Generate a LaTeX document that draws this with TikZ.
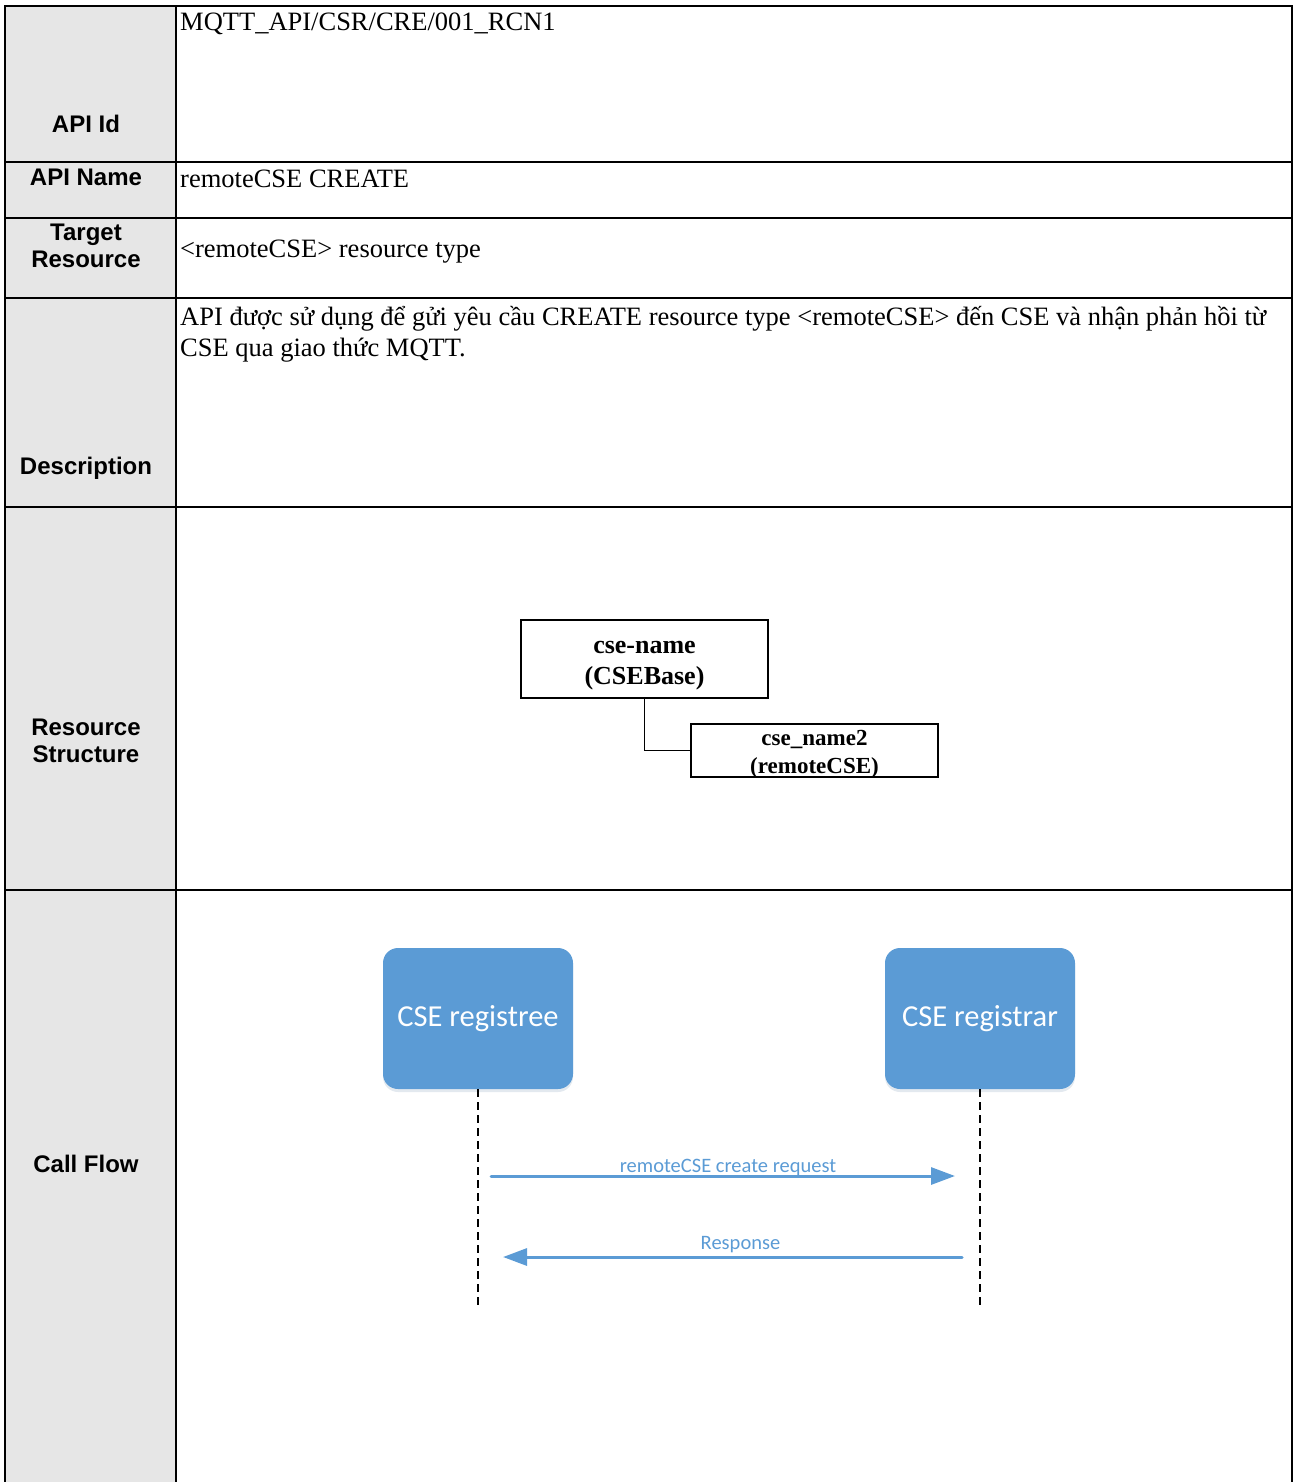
\documentclass[tikz,border=0pt]{standalone}
\usepackage{fontspec}
\setmainfont{Liberation Serif}
\setsansfont{Liberation Sans}
\newfontfamily\calibri{Carlito}
\usetikzlibrary{arrows.meta,shadows}
\definecolor{cseblue}{HTML}{5B9BD5}
\definecolor{hdrgray}{HTML}{E6E6E6}

\begin{document}
\begin{tikzpicture}[x=1pt,y=-1pt,
        rule/.style={line width=2pt},
        hdr/.style={font=\sffamily\bfseries\fontsize{24}{27}\selectfont, align=center, inner sep=0pt},
        val/.style={font=\fontsize{26.5}{31}\selectfont, anchor=base west, align=left, inner sep=0pt},
        res/.style={draw, line width=1.8pt, minimum width=247pt, inner sep=0pt, align=center},
        ent/.style={rounded corners=15pt, fill=cseblue, minimum width=190pt, minimum height=141pt,
            text=white, font=\calibri\fontsize{30.5}{34}\selectfont,
            drop shadow={shadow xshift=0pt, shadow yshift=-3pt, opacity=0.15, fill=cseblue!70!black}},
        life/.style={line width=1.2pt, dash pattern=on 8pt off 5pt},
        msg/.style={cseblue, line width=3pt, line cap=round, -{Triangle[length=24pt,width=17pt]}},
        msglbl/.style={text=cseblue, font=\calibri\fontsize{20.5}{24}\selectfont, inner sep=0pt}
    ]
        \useasboundingbox (0,0) rectangle (1295,1482);

        % table
        \fill[hdrgray] (5,6) rectangle (176,1482);
        \draw[rule] (5,1482) -- (5,6) -- (1292,6) -- (1292,1482);
        \draw[rule] (176,6) -- (176,1482);
        \foreach \y in {162,218,298,507,890}
            \draw[rule] (5,\y) -- (1292,\y);

        \node[hdr] (hid)   at (86,124)  {API Id};
        \node[hdr] (hname) at (86,177)  {API Name};
        \node[hdr] (htgt)  at (86,246)  {Target\\Resource};
        \node[hdr] (hdesc) at (86,468)  {Description};
        \node[hdr] (hres)  at (86,741)  {Resource\\Structure};
        \node[hdr] (hflow) at (86,1164) {Call Flow};

        \node[val] (vid)   at (180,31)  {MQTT\_API/CSR/CRE/001\_RCN1};
        \node[val] (vname) at (180,188) {remoteCSE CREATE};
        \node[val] (vtgt)  at (180,257) {<remoteCSE> resource type};
        \node[val] (vdesc) at (180,356) {API được sử dụng để gửi yêu cầu CREATE resource type <remoteCSE> đến CSE và nhận phản hồi từ\\CSE qua giao thức MQTT.};

        % resource structure
        \node[res, text height=64pt, text depth=14pt, font=\bfseries\fontsize{26}{31}\selectfont] (csebase) at (644.5,659) {cse-name\\(CSEBase)};
        \node[res, text height=49pt, text depth=4pt, font=\bfseries\fontsize{23}{28}\selectfont] (remcse) at (814.5,750.5) {cse\_name2\\(remoteCSE)};
        \draw[line width=1.8pt] (csebase.south) |- (remcse.west);

        % call flow
        \node[ent] (registree) at (478,1018.5) {CSE registree};
        \node[ent] (registrar) at (980,1018.5) {CSE registrar};
        \coordinate (registree end) at (478,1305);
        \coordinate (registrar end) at (980,1305);
        \draw[life] (registree.south) -- (registree end);
        \draw[life] (registrar.south) -- (registrar end);

        \coordinate (req s) at (491,1176);
        \coordinate (req e) at (955,1176);
        \coordinate (rsp s) at (962,1257);
        \coordinate (rsp e) at (503,1257);
        \draw[msg] (req s) -- node[msglbl, above=-1pt, xshift=5pt] (reqlbl) {remoteCSE create request} (req e);
        \draw[msg] (rsp s) -- node[msglbl, above=3pt, xshift=8pt] (rsplbl) {Response} (rsp e);

    \end{tikzpicture}
\end{document}
